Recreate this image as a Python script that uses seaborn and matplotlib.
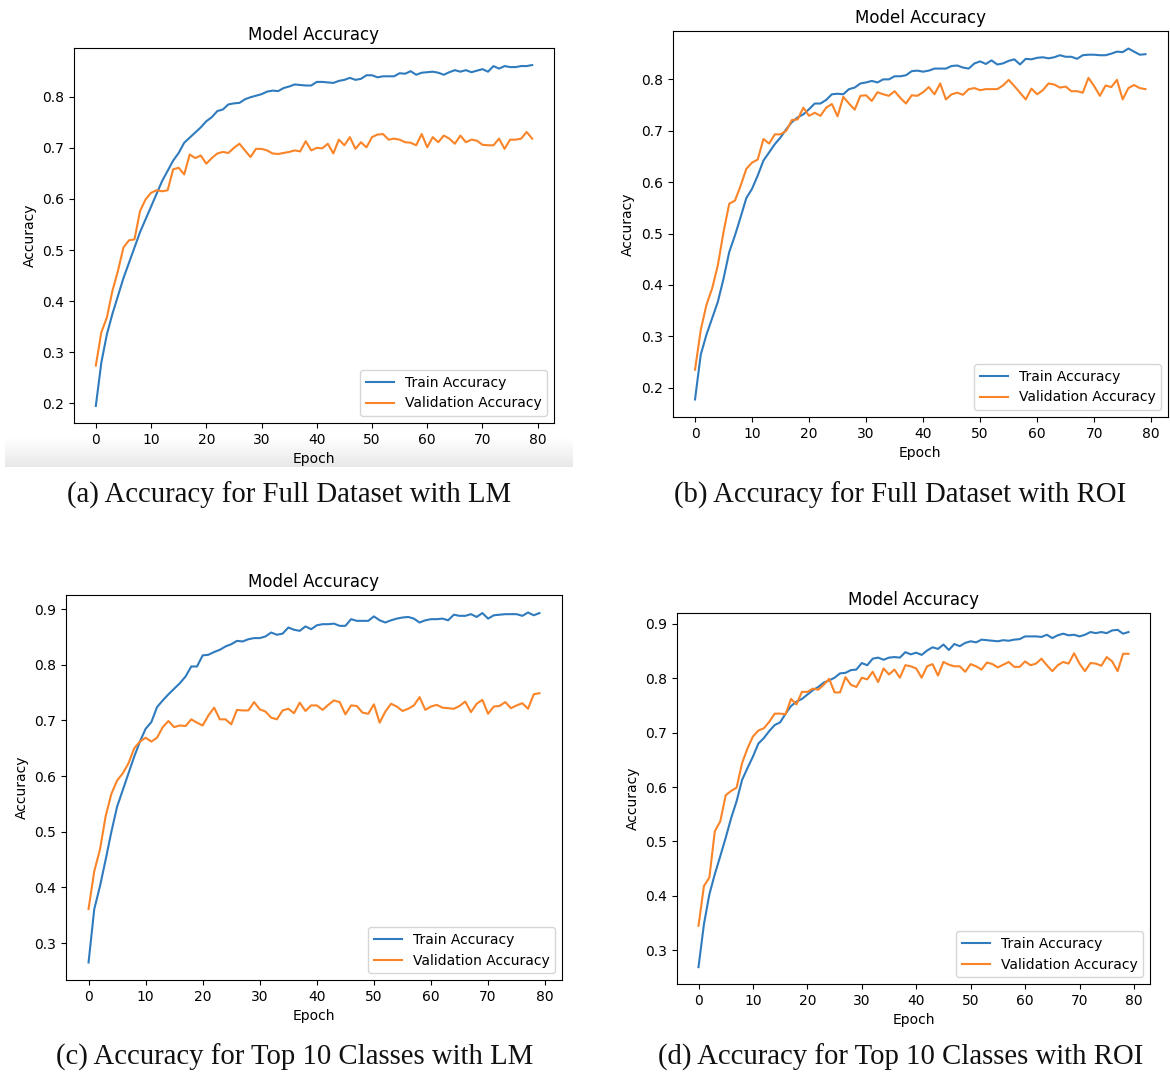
import numpy as np
import pandas as pd
import matplotlib
matplotlib.use("Agg")
import matplotlib.pyplot as plt
import seaborn as sns

epochs = list(range(80))

train_a = [0.195, 0.28, 0.335, 0.375, 0.41, 0.445, 0.475, 0.505, 0.535, 0.56,
           0.585, 0.61, 0.635, 0.655, 0.675, 0.69, 0.71, 0.72, 0.73, 0.74,
           0.752, 0.76, 0.772, 0.775, 0.785, 0.787, 0.788, 0.795, 0.799, 0.802,
           0.805, 0.81, 0.812, 0.811, 0.817, 0.82, 0.824, 0.823, 0.822, 0.822,
           0.829, 0.829, 0.828, 0.827, 0.831, 0.833, 0.837, 0.833, 0.835, 0.842,
           0.842, 0.838, 0.84, 0.84, 0.84, 0.846, 0.845, 0.85, 0.843, 0.847,
           0.848, 0.849, 0.847, 0.843, 0.848, 0.852, 0.849, 0.852, 0.848, 0.851,
           0.854, 0.849, 0.86, 0.855, 0.86, 0.858, 0.858, 0.86, 0.86, 0.862]
val_a = [0.274, 0.339, 0.368, 0.42, 0.459, 0.505, 0.519, 0.521, 0.576, 0.599,
         0.612, 0.617, 0.615, 0.617, 0.658, 0.661, 0.648, 0.687, 0.68, 0.685,
         0.669, 0.68, 0.689, 0.692, 0.69, 0.70, 0.708, 0.695, 0.682, 0.698,
         0.698, 0.695, 0.689, 0.688, 0.69, 0.692, 0.695, 0.693, 0.713, 0.695,
         0.70, 0.699, 0.708, 0.689, 0.716, 0.705, 0.721, 0.698, 0.711, 0.701,
         0.721, 0.726, 0.727, 0.716, 0.718, 0.716, 0.711, 0.71, 0.705, 0.727,
         0.701, 0.721, 0.711, 0.724, 0.718, 0.708, 0.724, 0.711, 0.716, 0.714,
         0.706, 0.705, 0.705, 0.718, 0.698, 0.716, 0.716, 0.718, 0.731, 0.718]

train_b = [0.177, 0.264, 0.303, 0.335, 0.367, 0.412, 0.464, 0.496, 0.532, 0.569,
           0.587, 0.613, 0.642, 0.658, 0.674, 0.687, 0.703, 0.717, 0.726, 0.732,
           0.742, 0.753, 0.753, 0.76, 0.771, 0.772, 0.771, 0.781, 0.784, 0.792,
           0.794, 0.797, 0.794, 0.80, 0.80, 0.806, 0.806, 0.808, 0.816, 0.817,
           0.815, 0.817, 0.821, 0.821, 0.821, 0.826, 0.827, 0.823, 0.821, 0.831,
           0.835, 0.83, 0.837, 0.829, 0.831, 0.836, 0.839, 0.829, 0.84, 0.839,
           0.842, 0.843, 0.841, 0.843, 0.847, 0.844, 0.844, 0.84, 0.847, 0.848,
           0.848, 0.847, 0.847, 0.85, 0.854, 0.853, 0.86, 0.854, 0.848, 0.849]
val_b = [0.235, 0.312, 0.361, 0.393, 0.438, 0.503, 0.558, 0.564, 0.593, 0.626,
         0.638, 0.644, 0.684, 0.675, 0.693, 0.693, 0.70, 0.721, 0.722, 0.745,
         0.729, 0.735, 0.729, 0.745, 0.752, 0.728, 0.766, 0.753, 0.741, 0.768,
         0.769, 0.758, 0.775, 0.771, 0.768, 0.777, 0.764, 0.753, 0.769, 0.768,
         0.775, 0.785, 0.771, 0.792, 0.761, 0.771, 0.774, 0.77, 0.781, 0.783,
         0.779, 0.781, 0.781, 0.781, 0.788, 0.799, 0.787, 0.774, 0.761, 0.782,
         0.771, 0.779, 0.792, 0.79, 0.784, 0.786, 0.777, 0.777, 0.774, 0.803,
         0.787, 0.768, 0.788, 0.785, 0.799, 0.761, 0.783, 0.789, 0.783, 0.781]

train_c = [0.265, 0.361, 0.402, 0.45, 0.50, 0.545, 0.575, 0.605, 0.635, 0.662,
           0.685, 0.697, 0.724, 0.736, 0.747, 0.757, 0.767, 0.779, 0.797, 0.797,
           0.817, 0.818, 0.823, 0.827, 0.833, 0.837, 0.843, 0.842, 0.846, 0.848,
           0.848, 0.851, 0.858, 0.854, 0.856, 0.867, 0.863, 0.861, 0.869, 0.864,
           0.871, 0.873, 0.873, 0.874, 0.87, 0.87, 0.882, 0.879, 0.879, 0.879,
           0.887, 0.88, 0.876, 0.88, 0.883, 0.885, 0.886, 0.883, 0.876, 0.88,
           0.882, 0.882, 0.883, 0.88, 0.89, 0.888, 0.888, 0.891, 0.886, 0.893,
           0.883, 0.889, 0.89, 0.891, 0.891, 0.891, 0.888, 0.894, 0.889, 0.893]
val_c = [0.361, 0.429, 0.468, 0.528, 0.568, 0.592, 0.605, 0.623, 0.65, 0.662,
         0.669, 0.662, 0.669, 0.688, 0.699, 0.688, 0.691, 0.69, 0.702, 0.696,
         0.691, 0.709, 0.723, 0.702, 0.702, 0.693, 0.719, 0.718, 0.718, 0.733,
         0.72, 0.716, 0.705, 0.702, 0.718, 0.721, 0.713, 0.732, 0.717, 0.727,
         0.727, 0.719, 0.728, 0.736, 0.733, 0.711, 0.727, 0.726, 0.714, 0.712,
         0.729, 0.696, 0.716, 0.73, 0.725, 0.717, 0.721, 0.727, 0.742, 0.719,
         0.725, 0.728, 0.723, 0.722, 0.721, 0.726, 0.734, 0.715, 0.73, 0.737,
         0.712, 0.725, 0.726, 0.733, 0.722, 0.727, 0.731, 0.721, 0.747, 0.749]

train_d = [0.269, 0.348, 0.403, 0.44, 0.473, 0.507, 0.543, 0.574, 0.613, 0.635,
           0.656, 0.68, 0.69, 0.703, 0.714, 0.719, 0.735, 0.749, 0.757, 0.762,
           0.77, 0.778, 0.784, 0.792, 0.796, 0.801, 0.809, 0.81, 0.815, 0.816,
           0.828, 0.824, 0.836, 0.838, 0.834, 0.838, 0.839, 0.838, 0.848, 0.844,
           0.847, 0.843, 0.851, 0.857, 0.854, 0.862, 0.852, 0.863, 0.859, 0.865,
           0.868, 0.866, 0.871, 0.87, 0.869, 0.868, 0.87, 0.869, 0.871, 0.872,
           0.877, 0.877, 0.877, 0.876, 0.88, 0.874, 0.879, 0.882, 0.879, 0.88,
           0.877, 0.88, 0.885, 0.883, 0.885, 0.883, 0.888, 0.889, 0.882, 0.885]
val_d = [0.345, 0.418, 0.434, 0.519, 0.537, 0.585, 0.593, 0.599, 0.644, 0.671,
         0.693, 0.704, 0.708, 0.72, 0.735, 0.735, 0.734, 0.762, 0.752, 0.775,
         0.775, 0.781, 0.779, 0.788, 0.799, 0.774, 0.774, 0.802, 0.788, 0.784,
         0.801, 0.798, 0.812, 0.793, 0.818, 0.807, 0.816, 0.801, 0.824, 0.822,
         0.818, 0.801, 0.822, 0.826, 0.805, 0.83, 0.825, 0.822, 0.822, 0.812,
         0.826, 0.822, 0.816, 0.829, 0.826, 0.82, 0.825, 0.83, 0.821, 0.821,
         0.831, 0.824, 0.827, 0.836, 0.824, 0.813, 0.824, 0.83, 0.827, 0.846,
         0.827, 0.813, 0.828, 0.827, 0.823, 0.839, 0.831, 0.813, 0.845, 0.845]

series_names = ["Train Accuracy", "Validation Accuracy"]
captions = ["(a) Accuracy for Full Dataset with LM",
            "(b) Accuracy for Full Dataset with ROI",
            "(c) Accuracy for Top 10 Classes with LM",
            "(d) Accuracy for Top 10 Classes with ROI"]
panel_title = "Model Accuracy"
xticks = [0, 10, 20, 30, 40, 50, 60, 70, 80]

W, H = 1170, 1074
fig = plt.figure(figsize=(W / 100, H / 100), dpi=100)


def px_axes(l, t, r, b, **kw):
    return fig.add_axes([l / W, 1 - b / H, (r - l) / W, (b - t) / H], **kw)


# light grey screenshot band under panel (a)
band = px_axes(5, 437, 573, 467, zorder=0)
grad = np.linspace(1.0, 0.91, 64).reshape(-1, 1)
band.imshow(np.repeat(grad, 2, axis=1), aspect="auto", cmap="gray", vmin=0, vmax=1,
            extent=[0, 1, 0, 1], origin="upper", interpolation="bilinear")
band.axis("off")

boxes = [(74, 48, 554, 423), (672.5, 31, 1168, 417),
         (66, 595, 562, 980), (677, 613, 1150, 984)]
data = [(train_a, val_a), (train_b, val_b), (train_c, val_c), (train_d, val_d)]
cap_pos = [(289, 495), (900, 495), (295, 1057), (901, 1057)]
palette = {"Train Accuracy": "#2f7bbd", "Validation Accuracy": "#fa8428"}

for (l, t, r, b), (tr, va), cap, (cx, cy) in zip(boxes, data, captions, cap_pos):
    ax = px_axes(l, t, r, b, zorder=2)
    df = pd.DataFrame({
        "Epoch": epochs + epochs,
        "Accuracy": tr + va,
        "Series": [series_names[0]] * len(tr) + [series_names[1]] * len(va),
    })
    sns.lineplot(data=df, x="Epoch", y="Accuracy", hue="Series", palette=palette,
                 linewidth=1.5, ax=ax)
    ax.set_xticks(xticks)
    ax.set_title(panel_title, fontsize=12)
    ax.legend(loc="lower right", fontsize=10)
    fig.text(cx / W, 1 - cy / H, cap, ha="center", va="center",
             fontsize=20.7, family="Liberation Serif", color="#111111")

fig.savefig("out.png", dpi=100)
